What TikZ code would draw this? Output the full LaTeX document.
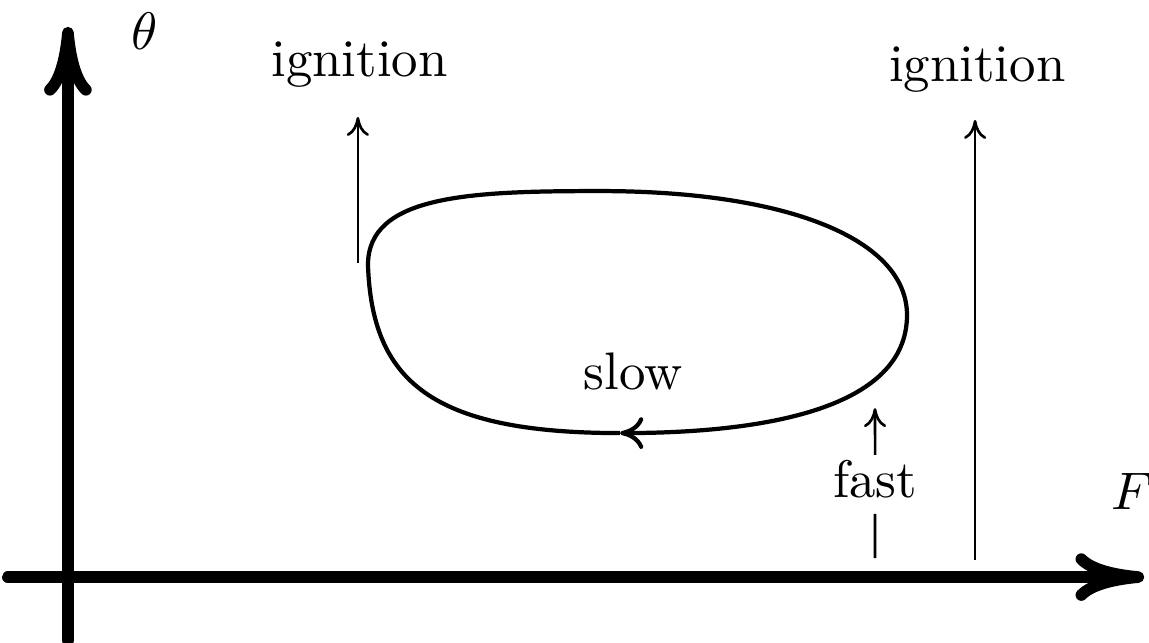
\documentclass[tikz,border=0pt]{standalone}
\usepackage{amsmath}
\usetikzlibrary{arrows.meta}
\tikzset{
    axis/.style={line width=2.2pt, line cap=round, -{To[length=13pt,width=9pt]}},
    thinarrow/.style={line width=0.5pt, -{To[length=3.6pt,width=4.2pt]}},
    lab/.style={anchor=base, inner sep=2.6pt}
}
\begin{document}
\begin{tikzpicture}[thick]
    \useasboundingbox (-0.452,-0.433) rectangle (7.192,3.839);
    % axes
    \draw[axis] (-0.40,0) -- (7.16,0);
    \draw[axis] (0,-0.42) -- (0,3.66);
    \node[lab] (flab) at (7.08,0.45) {$F$};
    \node[lab] (theta) at (0.51,3.51) {$\theta$};
    % slow cycle
    \draw[-{To[length=4.4pt,width=6pt]}] (3.673,0.958) .. controls (2.409,0.958) and (2.023,1.311) .. (1.996,2.076)
        .. controls (1.996,2.542) and (2.675,2.568) .. (3.540,2.568)
        .. controls (4.804,2.568) and (5.582,2.242) .. (5.582,1.743)
        .. controls (5.582,1.111) and (4.604,0.958) .. (3.673,0.958);
    \node[lab] (slow) at (3.76,1.25) {slow};
    % ignition jumps
    \coordinate (igl0) at (1.929,2.089);
    \coordinate (igl1) at (1.929,3.061);
    \coordinate (igr0) at (6.035,0.113);
    \coordinate (igr1) at (6.035,3.041);
    \draw[thinarrow] (igl0) -- (igl1);
    \draw[thinarrow] (igr0) -- (igr1);
    \node[lab] (ignleft) at (1.94,3.33) {ignition};
    \node[lab] (ignright) at (6.05,3.30) {ignition};
    % fast jump
    \node[lab] (fast) at (5.37,0.53) {fast};
    \coordinate (fast0) at (5.369,0.126);
    \coordinate (fast1) at (5.369,1.124);
    \draw[line width=0.5pt] (fast0) -- (fast);
    \draw[thinarrow] ([yshift=-2pt]fast.north) -- (fast1);
\end{tikzpicture}
\end{document}
